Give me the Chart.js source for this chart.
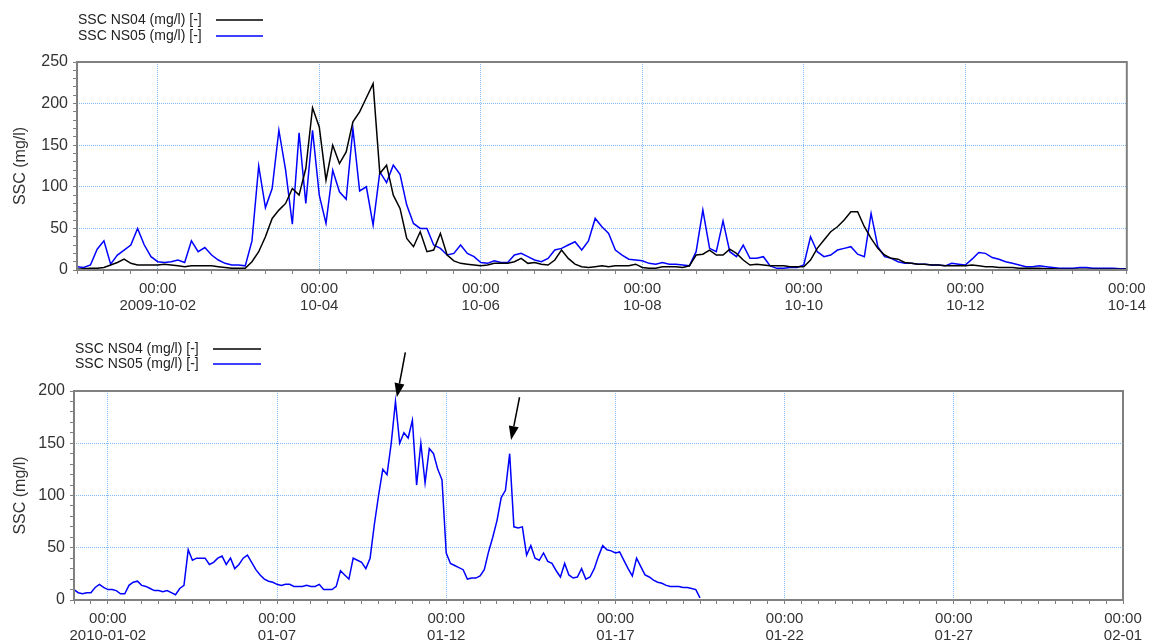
<!DOCTYPE html>
<html>
<head>
<meta charset="utf-8">
<script src="https://cdn.jsdelivr.net/npm/chart.js@4.4.1/dist/chart.umd.min.js"></script>
<style>
  html, body { margin: 0; padding: 0; background: #fff; }
  #wrap { position: relative; width: 1149px; height: 643px; overflow: hidden; }
  canvas { position: absolute; left: 0; }
  #ssc2009 { top: 0; }
  #ssc2010 { top: 320px; }
</style>
</head>
<body>
<div id="wrap">
  <canvas id="ssc2009" width="1149" height="320"></canvas>
  <canvas id="ssc2010" width="1149" height="323"></canvas>
</div>
<script>
// ── SSC at NS04 / NS05 — two periods ───────────────────────────────────────────
const SERIES_LABELS = ['SSC NS04 (mg/l) [-]', 'SSC NS05 (mg/l) [-]'];
const SERIES_COLORS = ['#000000', '#0000ff'];

// Oct 2009: one value every 2 h from 2009-10-01 00:00
const OCT_STEP_H = 2;
const octNS04 = [
  1, 1.5, 2, 2, 3, 6, 9, 13, 8, 6,
  6, 6, 6, 7, 6, 5, 4, 5, 5, 5,
  5, 4, 3, 2, 2, 2, 10, 22, 40, 62,
  72, 80, 98, 90, 122, 195, 172, 108, 150, 128,
  142, 178, 190, 207,
  224, 116, 126, 90, 74, 38,
  28, 46, 22, 24, 44, 18, 11, 8, 7, 6,
  5, 6, 8, 8, 8, 10, 14, 8, 9, 7,
  6, 12, 24, 14, 7, 4, 3, 4, 5, 4,
  5, 5, 5, 7, 3, 2, 2,
  4, 4, 4, 3, 5, 18, 19, 24, 18, 18,
  25, 20, 12, 6, 7, 6, 5, 5, 5, 4,
  4, 4, 12, 26, 36, 46, 52, 60, 70, 70,
  52, 38, 26, 18, 14, 13, 9, 8, 7, 7,
  6, 6, 5,
  5, 5, 5, 6, 5, 4, 4, 3, 3, 3,
  2, 2, 2, 2, 1.5, 1.5, 1, 1, 1, 1,
  1, 1, 1, 1, 1, 1, 1
];
const octNS05 = [
  4, 3, 6, 25, 35, 7, 18, 24, 30, 50,
  30, 16, 10, 9, 10, 12, 9, 35, 22, 27,
  18, 12, 8, 6, 6, 5, 35, 125, 75, 98,
  168, 120, 55, 165, 80, 168, 90, 56, 120, 94,
  85, 170, 95, 100,
  54, 118, 105, 126, 115, 78,
  56, 50, 50, 30, 26, 18, 20, 30, 20, 16,
  9, 8, 11, 9, 9, 18, 20, 16, 12, 10,
  14, 24, 26, 30, 34, 24, 35, 62, 52, 44,
  24, 18, 13, 12, 11, 8, 7,
  9, 7, 7, 6, 5, 22, 72, 26, 22, 59,
  22, 16, 30, 14, 14, 16, 5, 2, 2, 3,
  3, 6, 40, 22, 16, 18, 24, 26, 28, 19,
  16, 68, 28, 16, 14, 10, 8, 8, 7, 7,
  6, 6, 5,
  8, 7, 6, 13, 21, 20, 15, 13, 10, 8,
  6, 4, 4, 5, 4, 3, 2, 2, 2, 3,
  3, 2, 2, 2, 2, 1.5, 1.5
];
const octTickDates = ['2009-10-02', '10-04', '10-06', '10-08', '10-10', '10-12', '10-14'];

// Jan 2010: one value every 3 h from 2010-01-01 00:00 (no NS04 data in this period)
const JAN_STEP_H = 3;
const janNS04 = [];
const janNS05 = [
  10, 7, 6, 7, 7, 12, 15, 12, 10, 10,
  9, 6, 6, 14, 17, 18, 14, 13, 11, 9,
  9, 8, 9, 7, 5, 11, 14, 48, 38, 40,
  40, 40, 34, 36, 40, 42, 34, 40, 30, 34,
  40, 43, 36, 29, 24, 20, 18, 17, 15, 14,
  15, 15, 13, 13, 13, 14, 13, 13, 15, 10,
  10, 10, 13, 28, 24, 20, 40, 38, 36, 30,
  40, 72, 100, 125, 120, 150, 190, 150,
  160, 155, 172, 110, 150, 112, 145, 140, 125, 115,
  45, 35, 33, 31, 29, 20, 21, 21, 23, 29,
  46, 60, 76, 98, 105, 140, 70, 69, 70, 43,
  52, 40, 38, 45, 37, 35, 28, 22, 35, 24,
  21, 22, 30, 20, 22, 30, 42, 52, 48, 47,
  45, 46, 38, 30, 23, 40, 32, 24, 22, 19,
  17, 16, 14, 13, 13, 13, 12, 12, 11, 10,
  2
];
const janTickDates = ['2010-01-02', '01-07', '01-12', '01-17', '01-22', '01-27', '02-01'];

// peak markers, in data units: [hourFrom, valueFrom, hourTo, valueTo]
const janArrows = [[235, 237, 229, 194], [316, 194, 310, 153]];

// ── shared look ────────────────────────────────────────────────────────────────
const FONT = '"Liberation Sans", Arial, sans-serif';
const GRID = '#7fbaf5';
const AXIS = '#808080';
const TEXT = '#333';

const toPoints = (vals, step) => vals.map((v, i) => ({ x: i * step, y: v }));

// frame around the plot area, legend rows top-left, optional arrows
const decoPlugin = {
  id: 'deco',
  afterDatasetsDraw(chart) {
    const { ctx, chartArea: a } = chart;
    ctx.save();
    ctx.strokeStyle = AXIS;
    ctx.lineWidth = 2;
    ctx.strokeRect(a.left, a.top, a.right - a.left, a.bottom - a.top);
    ctx.restore();
  },
  afterDraw(chart, args, opts) {
    const { ctx, scales: { x, y } } = chart;
    ctx.save();

    // legend
    ctx.font = '14px ' + FONT;
    ctx.textBaseline = 'middle';
    ctx.textAlign = 'left';
    chart.data.datasets.forEach((ds, i) => {
      const yy = opts.legendY + i * opts.rowGap;
      ctx.fillStyle = '#222';
      ctx.fillText(ds.label, opts.legendX, yy);
      ctx.strokeStyle = ds.borderColor;
      ctx.lineWidth = 1.5;
      ctx.beginPath();
      ctx.moveTo(opts.lineX1, yy);
      ctx.lineTo(opts.lineX2, yy);
      ctx.stroke();
    });

    // arrows
    (opts.arrows || []).forEach(([h0, v0, h1, v1]) => {
      const x0 = x.getPixelForValue(h0), y0 = y.getPixelForValue(v0);
      const x1 = x.getPixelForValue(h1), y1 = y.getPixelForValue(v1);
      const ang = Math.atan2(y1 - y0, x1 - x0);
      const head = 14, half = 5;
      const bx = x1 - head * Math.cos(ang), by = y1 - head * Math.sin(ang);
      ctx.strokeStyle = '#000';
      ctx.fillStyle = '#000';
      ctx.lineWidth = 1.5;
      ctx.beginPath();
      ctx.moveTo(x0, y0);
      ctx.lineTo(bx, by);
      ctx.stroke();
      ctx.beginPath();
      ctx.moveTo(x1, y1);
      ctx.lineTo(bx + half * Math.sin(ang), by - half * Math.cos(ang));
      ctx.lineTo(bx - half * Math.sin(ang), by + half * Math.cos(ang));
      ctx.closePath();
      ctx.fill();
    });
    ctx.restore();
  },
};

function buildChart(canvasId, cfg) {
  const { ns04, ns05, step, xMax, minorStep, firstMajor, majorEvery, tickDates,
          yMax, yWidth, xHeight, pad, deco } = cfg;
  const isMajor = v => v >= firstMajor && (v - firstMajor) % majorEvery === 0;

  return new Chart(document.getElementById(canvasId), {
    type: 'line',
    data: {
      datasets: [
        { label: SERIES_LABELS[0], data: toPoints(ns04, step), borderColor: SERIES_COLORS[0] },
        { label: SERIES_LABELS[1], data: toPoints(ns05, step), borderColor: SERIES_COLORS[1] },
      ],
    },
    plugins: [decoPlugin],
    options: {
      responsive: false,
      animation: false,
      devicePixelRatio: 1,
      layout: { padding: pad },
      elements: {
        point: { radius: 0 },
        line: { borderWidth: 1.5, tension: 0 },
      },
      plugins: {
        legend: { display: false },
        tooltip: { enabled: false },
        deco,
      },
      scales: {
        x: {
          type: 'linear',
          min: 0,
          max: xMax,
          afterFit: s => { s.height = xHeight; },
          border: { display: false, dash: [1, 1] },
          grid: {
            color: c => (c.tick && c.tick.value < xMax && isMajor(c.tick.value)) ? GRID : 'transparent',
            tickColor: AXIS,
            // long tick slot pushes the labels down, the dash keeps the visible mark short
            tickLength: 7,
            tickBorderDash: [4, 10],
            lineWidth: 1,
          },
          ticks: {
            stepSize: minorStep,
            autoSkip: false,
            maxRotation: 0,
            padding: 3,
            color: TEXT,
            font: { family: FONT, size: 15, lineHeight: 1.15 },
            callback: v => isMajor(v) ? ['00:00', tickDates[(v - firstMajor) / majorEvery]] : '',
          },
        },
        y: {
          min: 0,
          max: yMax,
          afterFit: s => { s.width = yWidth; },
          border: { display: false, dash: [1, 1] },
          grid: {
            color: c => (c.tick && c.tick.value > 0 && c.tick.value < yMax && c.tick.value % 50 === 0) ? GRID : 'transparent',
            tickColor: AXIS,
            tickLength: 4,
            lineWidth: 1,
          },
          ticks: {
            stepSize: 10,
            autoSkip: false,
            padding: 5,
            color: TEXT,
            font: { family: FONT, size: 16 },
            callback: v => v % 50 === 0 ? v : '',
          },
          title: {
            display: true,
            text: 'SSC (mg/l)',
            color: TEXT,
            font: { family: FONT, size: 16 },
            padding: { top: 11 },
          },
        },
      },
    },
  });
}

buildChart('ssc2009', {
  ns04: octNS04, ns05: octNS05, step: OCT_STEP_H, xMax: 312,
  minorStep: 8, firstMajor: 24, majorEvery: 48, tickDates: octTickDates,
  yMax: 250, yWidth: 77, xHeight: 50,
  pad: { top: 62, right: 22, bottom: 0, left: 0 },
  deco: { legendX: 78, legendY: 20, rowGap: 16, lineX1: 216, lineX2: 263 },
});

buildChart('ssc2010', {
  ns04: janNS04, ns05: janNS05, step: JAN_STEP_H, xMax: 744,
  minorStep: 12, firstMajor: 24, majorEvery: 120, tickDates: janTickDates,
  yMax: 200, yWidth: 74, xHeight: 43,
  pad: { top: 71, right: 26, bottom: 0, left: 0 },
  deco: { legendX: 75, legendY: 29, rowGap: 15, lineX1: 213, lineX2: 261, arrows: janArrows },
});
</script>
</body>
</html>
